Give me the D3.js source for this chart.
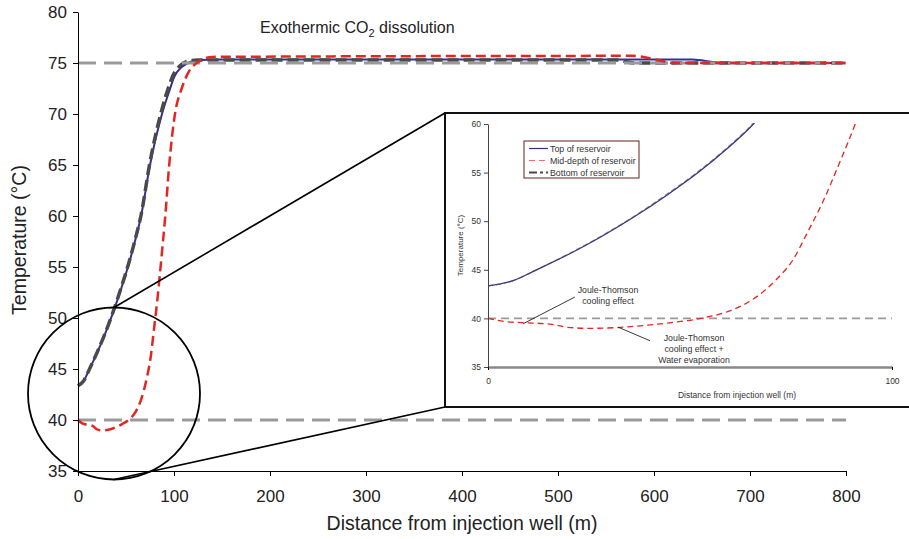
<!DOCTYPE html>
<html>
<head>
<meta charset="utf-8">
<script src="https://cdn.jsdelivr.net/npm/d3@7"></script>
<style>
  body { margin: 0; background: #fff; }
  svg { display: block; font-family: "Liberation Sans", Arial, Helvetica, sans-serif; }
</style>
</head>
<body>
<script>
/***** Data *****/
// Top of reservoir (solid blue)
var topDistance = [0, 6, 12, 20, 28, 36, 44, 52, 59, 65.7, 75, 87.5, 96, 100, 108, 117, 125, 150, 640, 666, 700, 800];
var topTemperature = [43.35, 43.85, 45.0, 46.6, 48.4, 50.4, 52.6, 55.0, 57.4, 60, 65, 70, 72.5, 73.6, 74.6, 75.1, 75.3, 75.35, 75.35, 75.05, 75.0, 75.0];

// Mid-depth of reservoir (red dashed)
var midDistance = [0, 4.5, 8.7, 15.3, 19.8, 25.2, 31.7, 39.3, 46, 53.3, 60, 65.7, 71.5, 75.6, 78.9, 83, 87.2, 90.9, 95, 101, 108, 114.6, 125, 140, 578, 604, 620, 800];
var midTemperature = [40.0, 39.66, 39.56, 39.42, 39.08, 38.98, 39.05, 39.3, 39.6, 40.05, 40.8, 42.0, 44.05, 46.1, 48.7, 52.1, 56.2, 60, 65, 70, 72.5, 74, 75.1, 75.6, 75.7, 75.3, 75.0, 75.0];

// Bottom of reservoir (dark grey dashed)
var bottomDistance = [0, 6, 12, 20, 28, 36, 44, 52, 59, 65.7, 75, 87, 95, 99, 106, 115, 125, 560, 580, 800];
var bottomTemperature = [43.35, 43.85, 45.0, 46.65, 48.45, 50.45, 52.7, 55.1, 57.5, 60.1, 65.3, 70.3, 72.8, 73.8, 74.7, 75.2, 75.3, 75.3, 75.0, 75.0];

// Reference temperatures (grey dashed lines)
var referenceTemps = [40, 75];

// Ticks
var mainXTicks = [0, 100, 200, 300, 400, 500, 600, 700, 800];
var mainYTicks = [35, 40, 45, 50, 55, 60, 65, 70, 75, 80];
var insetXTicks = [0, 100];
var insetYTicks = [35, 40, 45, 50, 55, 60];

var legendLabels = ["Top of reservoir", "Mid-depth of reservoir", "Bottom of reservoir"];

/***** Configuration *****/
var width = 909, height = 539;
var marginMain = { top: 12, left: 78 };
var widthMain = 768, heightMain = 459;

var marginInset = { top: 124, left: 488 };
var widthInset = 404, heightInset = 243;
var insetBox = { x: 445, y: 113, w: 470, h: 294 };

var font = "'Liberation Sans', Arial, Helvetica, sans-serif";

var colors = {
  top: "#34308f",
  mid: "#e3261f",
  bottom: "#4a4a4a",
  ref: "#9a9a9a"
};

function zip(xs, ys) {
  return xs.map(function(x, i) { return { x: x, y: ys[i] }; });
}
var series = [
  { key: "top", values: zip(topDistance, topTemperature) },
  { key: "bottom", values: zip(bottomDistance, bottomTemperature) },
  { key: "mid", values: zip(midDistance, midTemperature) }
];

/***** Scales *****/
var xMain = d3.scaleLinear().domain([0, 800]).range([0, widthMain]);
var yMain = d3.scaleLinear().domain([35, 80]).range([heightMain, 0]);
var xInset = d3.scaleLinear().domain([0, 100]).range([0, widthInset]);
var yInset = d3.scaleLinear().domain([35, 60]).range([heightInset, 0]);

var svg = d3.select("body").append("svg")
  .attr("width", width)
  .attr("height", height);

svg.append("defs").append("clipPath")
  .attr("id", "clip-inset")
  .append("rect")
  .attr("x", 0).attr("y", -1)
  .attr("width", widthInset).attr("height", heightInset + 1);

/***** Main chart *****/
var main = svg.append("g")
  .attr("transform", "translate(" + marginMain.left + "," + marginMain.top + ")");

var lineMain = d3.line().x(function(d) { return xMain(d.x); }).y(function(d) { return yMain(d.y); })
  .curve(d3.curveMonotoneX);

var styleMain = {
  top: { width: 2, dash: null },
  bottom: { width: 3.5, dash: "11,5" },
  mid: { width: 2.5, dash: "10,5" }
};

main.selectAll(".series-top")
  .data(series.filter(function(s) { return s.key === "top"; }))
  .enter().append("path")
  .attr("d", function(s) { return lineMain(s.values); })
  .attr("fill", "none")
  .attr("stroke", colors.top)
  .attr("stroke-width", styleMain.top.width);

main.selectAll(".series-bottom")
  .data(series.filter(function(s) { return s.key === "bottom"; }))
  .enter().append("path")
  .attr("d", function(s) { return lineMain(s.values); })
  .attr("fill", "none")
  .attr("stroke", colors.bottom)
  .attr("stroke-width", styleMain.bottom.width)
  .attr("stroke-dasharray", styleMain.bottom.dash);

// Reference lines
main.selectAll(".ref")
  .data(referenceTemps)
  .enter().append("line")
  .attr("x1", xMain(0)).attr("x2", xMain(800))
  .attr("y1", function(d) { return yMain(d); })
  .attr("y2", function(d) { return yMain(d); })
  .attr("stroke", colors.ref)
  .attr("stroke-width", 3)
  .attr("stroke-dasharray", "18,8");

main.selectAll(".series-mid")
  .data(series.filter(function(s) { return s.key === "mid"; }))
  .enter().append("path")
  .attr("d", function(s) { return lineMain(s.values); })
  .attr("fill", "none")
  .attr("stroke", colors.mid)
  .attr("stroke-width", styleMain.mid.width)
  .attr("stroke-dasharray", styleMain.mid.dash);

// Axes
var xAxisMain = d3.axisBottom(xMain).tickValues(mainXTicks).tickSize(5).tickSizeOuter(0).tickPadding(14);
var yAxisMain = d3.axisLeft(yMain).tickValues(mainYTicks).tickSize(5).tickSizeOuter(0).tickPadding(6);

var gx = main.append("g")
  .attr("transform", "translate(0," + heightMain + ")")
  .call(xAxisMain);
var gy = main.append("g").call(yAxisMain);

[gx, gy].forEach(function(g) {
  g.selectAll("path, line").attr("stroke", "#000").attr("stroke-width", 1);
  g.selectAll("text").attr("font-family", font).attr("font-size", 17).attr("fill", "#222");
});

// Titles
svg.append("text")
  .attr("x", 462).attr("y", 530)
  .attr("text-anchor", "middle")
  .attr("font-family", font).attr("font-size", 19.5).attr("fill", "#222")
  .text("Distance from injection well (m)");

svg.append("text")
  .attr("transform", "translate(26,240) rotate(-90)")
  .attr("text-anchor", "middle")
  .attr("font-family", font).attr("font-size", 19.5).attr("fill", "#222")
  .text("Temperature (°C)");

var title = svg.append("text")
  .attr("x", 260).attr("y", 33)
  .attr("font-family", font).attr("font-size", 16).attr("fill", "#222");
title.append("tspan").text("Exothermic CO");
title.append("tspan").attr("dy", 4).attr("font-size", 11).text("2");
title.append("tspan").attr("dy", -4).text(" dissolution");

/***** Zoom circle and connectors *****/
var circle = { cx: marginMain.left + xMain(37.5), cy: marginMain.top + yMain(42.6), r: 86 };

svg.append("circle")
  .attr("cx", circle.cx).attr("cy", circle.cy).attr("r", circle.r)
  .attr("fill", "none").attr("stroke", "#000").attr("stroke-width", 1.8);

svg.append("line")
  .attr("x1", circle.cx).attr("y1", circle.cy - circle.r)
  .attr("x2", insetBox.x).attr("y2", insetBox.y)
  .attr("stroke", "#000").attr("stroke-width", 1.6);
svg.append("line")
  .attr("x1", circle.cx).attr("y1", circle.cy + circle.r)
  .attr("x2", insetBox.x).attr("y2", insetBox.y + insetBox.h)
  .attr("stroke", "#000").attr("stroke-width", 1.6);

/***** Inset chart *****/
svg.append("rect")
  .attr("x", insetBox.x).attr("y", insetBox.y)
  .attr("width", insetBox.w).attr("height", insetBox.h)
  .attr("fill", "#fff").attr("stroke", "#111").attr("stroke-width", 2);

var inset = svg.append("g")
  .attr("transform", "translate(" + marginInset.left + "," + marginInset.top + ")");

var lineInset = d3.line().x(function(d) { return xInset(d.x); }).y(function(d) { return yInset(d.y); })
  .curve(d3.curveMonotoneX);

// Reference line at 40
inset.append("line")
  .attr("x1", xInset(0)).attr("x2", xInset(100))
  .attr("y1", yInset(referenceTemps[0])).attr("y2", yInset(referenceTemps[0]))
  .attr("stroke", colors.ref).attr("stroke-width", 1.6)
  .attr("stroke-dasharray", "8,5");

var insetStyle = {
  top: { width: 1.3, dash: null },
  bottom: { width: 1.4, dash: "5,3" },
  mid: { width: 1.3, dash: "6,4" }
};

inset.append("g")
  .attr("clip-path", "url(#clip-inset)")
  .selectAll("path")
  .data(series)
  .enter().append("path")
  .attr("d", function(s) { return lineInset(s.values); })
  .attr("fill", "none")
  .attr("stroke", function(s) { return colors[s.key]; })
  .attr("stroke-width", function(s) { return insetStyle[s.key].width; })
  .attr("stroke-dasharray", function(s) { return insetStyle[s.key].dash; })
  .attr("stroke-opacity", function(s) { return s.key === "bottom" ? 0.6 : 1; });

var xAxisInset = d3.axisBottom(xInset).tickValues(insetXTicks).tickSize(3).tickSizeOuter(0).tickPadding(8);
var yAxisInset = d3.axisLeft(yInset).tickValues(insetYTicks).tickSize(4).tickSizeOuter(0).tickPadding(3);

var gxi = inset.append("g")
  .attr("transform", "translate(0," + heightInset + ")")
  .call(xAxisInset);
gxi.select(".domain").attr("stroke", "#888").attr("stroke-width", 2.5);
gxi.selectAll("line").attr("stroke", "#000");

var gyi = inset.append("g").call(yAxisInset);
gyi.selectAll("path, line").attr("stroke", "#444");

[gxi, gyi].forEach(function(g) {
  g.selectAll("text").attr("font-family", font).attr("font-size", 8.5).attr("fill", "#333");
});

inset.append("text")
  .attr("x", xInset(50) + 47).attr("y", heightInset + 31)
  .attr("text-anchor", "middle")
  .attr("font-family", font).attr("font-size", 8.5).attr("fill", "#333")
  .text("Distance from injection well (m)");

inset.append("text")
  .attr("transform", "translate(-25," + yInset(47.5) + ") rotate(-90)")
  .attr("text-anchor", "middle")
  .attr("font-family", font).attr("font-size", 8).attr("fill", "#333")
  .text("Temperature (°C)");

// Annotations
var notes = [
  { lines: ["Joule-Thomson", "cooling effect"], x: 29.7, y: 42.65, from: [21.5, 42.2], to: [8.7, 39.45] },
  { lines: ["Joule-Thomson", "cooling effect +", "Water evaporation"], x: 51, y: 37.7, from: [40.1, 37.7], to: [32.2, 39.1] }
];

notes.forEach(function(n) {
  inset.append("line")
    .attr("x1", xInset(n.from[0])).attr("y1", yInset(n.from[1]))
    .attr("x2", xInset(n.to[0])).attr("y2", yInset(n.to[1]))
    .attr("stroke", "#222").attr("stroke-width", 0.9);
  var t = inset.append("text")
    .attr("text-anchor", "middle")
    .attr("font-family", font).attr("font-size", 8.8).attr("fill", "#333");
  n.lines.forEach(function(l, i) {
    t.append("tspan")
      .attr("x", xInset(n.x))
      .attr("y", yInset(n.y) + i * 11)
      .text(l);
  });
});

// Legend
var legend = inset.append("g").attr("transform", "translate(36,17)");
legend.append("rect")
  .attr("width", 115).attr("height", 37)
  .attr("fill", "#fff").attr("stroke", "#6a1c1c").attr("stroke-width", 1);

var legendKeys = ["top", "mid", "bottom"];
var legendDash = { top: null, mid: "6,4", bottom: "8,3,3,3" };
legendKeys.forEach(function(k, i) {
  var y = 7.5 + i * 12;
  legend.append("line")
    .attr("x1", 5).attr("x2", 24).attr("y1", y).attr("y2", y)
    .attr("stroke", k === "mid" ? "#f06a66" : colors[k])
    .attr("stroke-width", k === "bottom" ? 2 : 1.2)
    .attr("stroke-dasharray", legendDash[k]);
  legend.append("text")
    .attr("x", 26).attr("y", y + 3)
    .attr("font-family", font).attr("font-size", 8.8).attr("fill", "#333")
    .text(legendLabels[i]);
});
</script>
</body>
</html>
